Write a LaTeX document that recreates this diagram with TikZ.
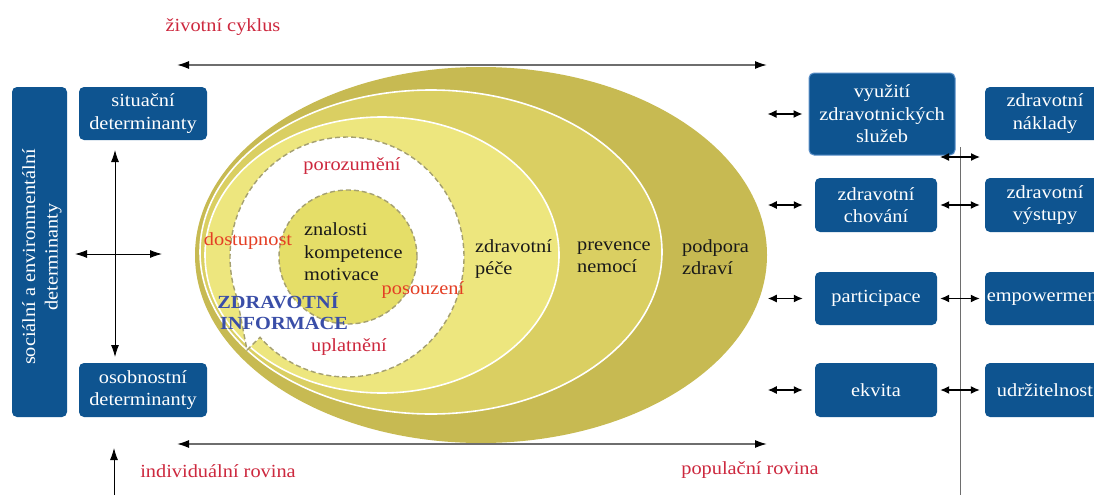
\documentclass[tikz,border=0pt]{standalone}
\usepackage{fontspec}
\setmainfont{Liberation Serif}[FakeStretch=1.1]
\usetikzlibrary{arrows.meta}
\definecolor{boxblue}{HTML}{0E5490}
\definecolor{boxedge}{HTML}{5A8FC8}
\definecolor{oliveA}{RGB}{199,186,82}
\definecolor{oliveB}{RGB}{218,207,98}
\definecolor{oliveC}{RGB}{237,230,126}
\definecolor{oliveIn}{RGB}{229,222,104}
\definecolor{dashc}{RGB}{165,160,112}
\definecolor{redtxt}{RGB}{205,40,62}
\definecolor{orangetxt}{RGB}{228,62,36}
\definecolor{bluetxt}{RGB}{58,78,168}
\definecolor{axisgray}{RGB}{110,110,110}
\begin{document}
\begin{tikzpicture}[x=1pt,y=-1pt,
  every node/.style={font=\fontsize{18.5}{22.5}\selectfont, inner sep=0pt},
  bbox/.style={fill=boxblue, rounded corners=5pt, text=white, align=center},
  redlbl/.style={text=redtxt},
  orlbl/.style={text=orangetxt},
  bluelbl/.style={text=bluetxt, font=\fontsize{18.5}{22.5}\selectfont\bfseries},
  bandlbl/.style={text=black!90, align=left, anchor=west},
  dbl/.style={{Latex[length=9pt,width=8pt]}-{Latex[length=9pt,width=8pt]}, line width=1.3pt, black},
  crossarr/.style={{Latex[length=12pt,width=8pt]}-{Latex[length=12pt,width=8pt]}, line width=0.9pt, black},
  axisarr/.style={{Latex[length=12pt,width=8pt,color=black]}-{Latex[length=12pt,width=8pt,color=black]}, line width=1.6pt, draw=axisgray},
  dashedge/.style={draw=dashc, line width=1.4pt, dash pattern=on 5pt off 3pt}
]
\useasboundingbox (0,0) rectangle (1094,495);
\clip (0,0) rectangle (1094,495);
\fill[white] (0,0) rectangle (1094,495);

% ellipses
\fill[oliveA] (481,255) ellipse [x radius=286pt, y radius=188pt];
\filldraw[fill=oliveB, draw=white, line width=1.6pt] (431,252) ellipse [x radius=231pt, y radius=162pt];
\filldraw[fill=oliveC, draw=white, line width=1.6pt] (382,255) ellipse [x radius=177pt, y radius=138pt];

% speech bubble
\filldraw[fill=white, dashedge] plot[domain=160:498, samples=120] ({347+117*cos(\x)},{257+120*sin(\x)}) -- (247,350) -- cycle;
\filldraw[fill=oliveIn, dashedge] (348,257) ellipse [x radius=69pt, y radius=67pt];

% inner texts
\node[redlbl] (poro) at (352,166) {porozumění};
\node[orlbl] (dost) at (248,241) {dostupnost};
\node[align=left, anchor=west, text=black!90] (zkm) at (304,252) {znalosti\\kompetence\\motivace};
\node[orlbl] (poso) at (423,290) {posouzení};
\node[bluelbl] (zdr) at (278,301) {ZDRAVOTNÍ};
\node[bluelbl] (inf) at (284,323) {INFORMACE};
\node[redlbl] (upla) at (349,347) {uplatnění};
\node[bandlbl] (pece) at (475,259) {zdravotní\\péče};
\node[bandlbl] (prev) at (577,257) {prevence\\nemocí};
\node[bandlbl] (podp) at (682,257) {podpora\\zdraví};

% axes
\node[redlbl] (zivot) at (223,27) {životní cyklus};
\coordinate (tl) at (177,65);
\coordinate (tr) at (767,65);
\draw[axisarr] (tl) -- (tr);
\coordinate (bl) at (177,444);
\coordinate (br) at (767,444);
\draw[axisarr] (bl) -- (br);
\node[redlbl] (indiv) at (218,471) {individuální rovina};
\node[redlbl] (popul) at (750,470) {populační rovina};
\coordinate (upb) at (114,495);
\coordinate (upt) at (114,448);
\draw[-{Latex[length=12pt,width=8pt]}, line width=0.9pt, black] (upb) -- (upt);

% left boxes
\node[bbox, minimum width=55pt, minimum height=330pt] (soc) at (39.5,252) {};
\node[rotate=90, align=center, text=white] (soctxt) at (42,257) {sociální a environmentální\\determinanty};
\node[bbox, minimum width=128pt, minimum height=53pt] (situ) at (143,113.5) {situační\\determinanty};
\node[bbox, minimum width=128pt, minimum height=54pt] (osob) at (143,390) {osobnostní\\determinanty};
\coordinate (cvt) at (115,150);
\coordinate (cvb) at (115,357);
\coordinate (chl) at (75,254);
\coordinate (chr) at (162,254);
\draw[crossarr] (cvt) -- (cvb);
\draw[crossarr] (chl) -- (chr);

% right boxes column 1
\node[bbox, draw=boxedge, line width=1pt, minimum width=146pt, minimum height=82pt] (vyu) at (882,114) {využití\\zdravotnických\\služeb};
\node[bbox, minimum width=122pt, minimum height=54pt] (chov) at (876,205) {zdravotní\\chování};
\node[bbox, minimum width=122pt, minimum height=53pt] (part) at (876,298.5) {participace};
\node[bbox, minimum width=122pt, minimum height=54pt] (ekv) at (876,390) {ekvita};

% right boxes column 2 (cut off by the right edge, as in the reference)
\node[bbox, minimum width=120pt, minimum height=53pt] (nakl) at (1045,113.5) {zdravotní\\náklady};
\node[bbox, minimum width=120pt, minimum height=54pt] (vyst) at (1045,205) {zdravotní\\výstupy};
\node[bbox, minimum width=120pt, minimum height=53pt] (emp) at (1045,298.5) {empowerment};
\node[bbox, minimum width=120pt, minimum height=54pt] (udr) at (1045,390) {udržitelnost};

% vertical line
\coordinate (vlt) at (960,147);
\coordinate (vlb) at (960,495);
\draw[axisgray, line width=0.9pt] (vlt) -- (vlb);

% arrows ellipse -> column 1
\draw[dbl] ([xshift=-41pt]vyu.west) -- ([xshift=-6pt]vyu.west);
\draw[dbl] ([xshift=-47pt]chov.west) -- ([xshift=-12pt]chov.west);
\draw[dbl] ([xshift=-47pt]part.west) -- ([xshift=-12pt]part.west);
\draw[dbl] ([xshift=-47pt]ekv.west) -- ([xshift=-12pt]ekv.west);

% arrows column 1 -> column 2
\coordinate (a1l) at (940,157);
\coordinate (a1r) at (980,157);
\draw[dbl] (a1l) -- (a1r);
\draw[dbl] ([xshift=3pt]chov.east) -- ([xshift=-5pt]vyst.west);
\draw[dbl] ([xshift=3pt]part.east) -- ([xshift=-5pt]emp.west);
\draw[dbl] ([xshift=3pt]ekv.east) -- ([xshift=-5pt]udr.west);
\end{tikzpicture}
\end{document}
